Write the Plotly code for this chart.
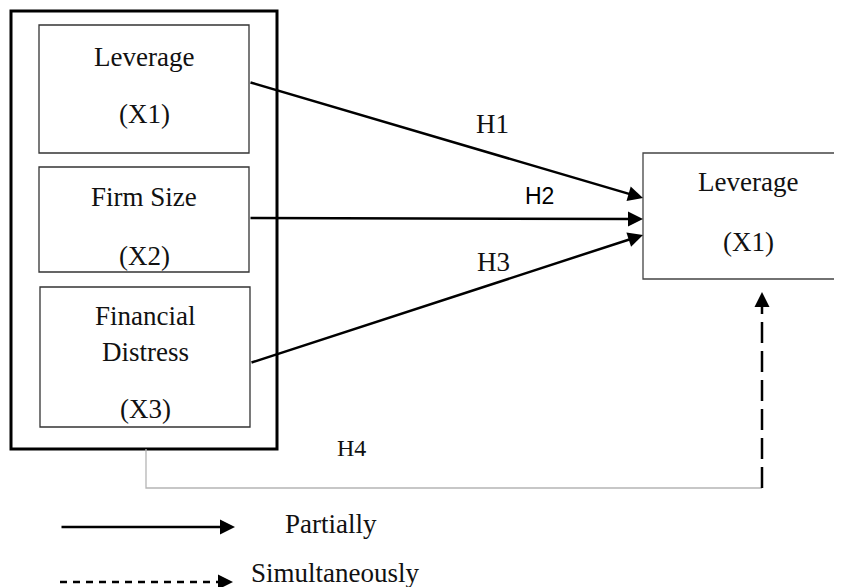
import plotly.graph_objects as go

W, H = 842, 587
OFF = 8  # default page body margin in browser

# ---- content ----
node_labels = ["Leverage", "(X1)", "Firm Size", "(X2)", "Financial", "Distress", "(X3)"]
target_labels = ["Leverage", "(X1)"]
hyp_labels = ["H1", "H2", "H3", "H4"]
legend_labels = ["Partially", "Simultaneously"]

SERIF = "Liberation Serif"
FS = 27

fig = go.Figure()
fig.update_xaxes(range=[OFF, W + OFF], visible=False, fixedrange=True)
fig.update_yaxes(range=[H + OFF, OFF], visible=False, fixedrange=True)

shapes = []
# outer box
shapes.append(dict(type="rect", x0=11, y0=11, x1=277, y1=449,
                   line=dict(color="#000", width=3)))
# inner boxes
for (x0, y0, x1, y1) in [(39, 25, 249, 153), (39, 167, 249, 272), (40, 287, 250, 427)]:
    shapes.append(dict(type="rect", x0=x0, y0=y0, x1=x1, y1=y1,
                       line=dict(color="#333", width=1.3)))
# target box
shapes.append(dict(type="rect", x0=643, y0=153, x1=860, y1=279,
                   line=dict(color="#444", width=1.3)))
# grey connector
shapes.append(dict(type="path", path="M146,449 L146,488 L762,488",
                   line=dict(color="#b5b5b5", width=1.3)))
# dashed vertical
shapes.append(dict(type="line", x0=762, y0=488, x1=762, y1=302,
                   line=dict(color="#000", width=2.5, dash="21px,8px")))
# legend dashed
shapes.append(dict(type="line", x0=60, y0=582, x1=222, y1=582,
                   line=dict(color="#000", width=2.5, dash="7px,6px")))
fig.update_layout(shapes=shapes)

ann = []
def arrow(x, y, ax, ay):
    ann.append(dict(x=x, y=y, ax=ax, ay=ay, xref="x", yref="y", axref="x", ayref="y",
                    showarrow=True, arrowhead=2, arrowsize=1.2, arrowwidth=2.5,
                    arrowcolor="#000", standoff=0, text=""))

arrow(643, 198, 249, 82)
arrow(643, 219, 249, 218)
arrow(643, 235, 250, 363)
arrow(762, 292, 762, 306)
arrow(235, 527, 60, 527)
arrow(233, 582, 222, 582)

def txt(x, y, s, size=FS, family=SERIF, color="#111", anchor="center"):
    ann.append(dict(x=x, y=y, xref="x", yref="y", text=s, showarrow=False,
                    xanchor=anchor, yanchor="middle",
                    font=dict(family=family, size=size, color=color)))

txt(144, 57, node_labels[0])
txt(144, 114, node_labels[1])
txt(144, 197, node_labels[2])
txt(144, 256, node_labels[3])
txt(145, 316, node_labels[4])
txt(145, 352, node_labels[5])
txt(145, 409, node_labels[6])
txt(748, 182, target_labels[0])
txt(748, 242, target_labels[1])
txt(492, 124, hyp_labels[0])
txt(539, 196, hyp_labels[1], size=23, family="Liberation Sans", color="#000")
txt(493, 262, hyp_labels[2])
txt(351, 448, hyp_labels[3], size=24)
txt(331, 524, legend_labels[0])
txt(249, 573, legend_labels[1], anchor="left")

fig.update_layout(annotations=ann, width=W, height=H,
                  margin=dict(l=0, r=0, t=0, b=0),
                  paper_bgcolor="white", plot_bgcolor="white", showlegend=False)

fig.write_html("out.html", config={"displayModeBar": False})
